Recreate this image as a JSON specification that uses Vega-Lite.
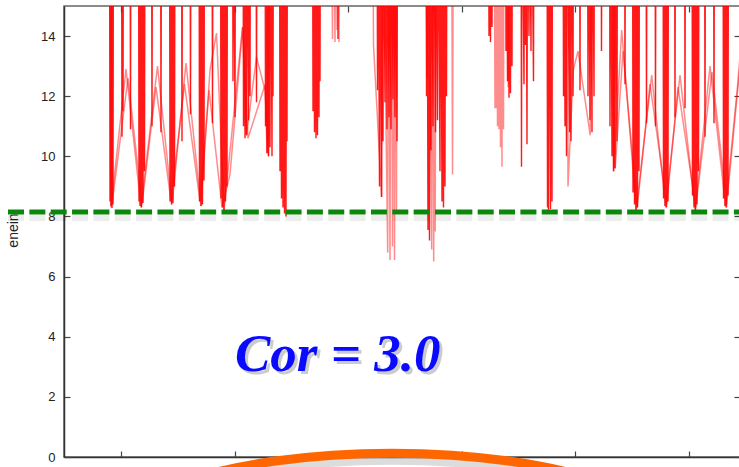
{
  "$schema": "https://vega.github.io/schema/vega-lite/v6.json",
  "width": 676,
  "height": 451,
  "autosize": {"type": "none"},
  "padding": {"left": 64, "top": 6, "right": 0, "bottom": 10},
  "background": "white",
  "config": {"view": {"stroke": "#666", "strokeWidth": 1.5}, "axis": {"grid": false}},
  "datasets": {
    "energy": [
      {"s":"d","x":45.5,"y":20},{"s":"d","x":46,"y":8.5},{"s":"d","x":46.5,"y":20},{"s":"d","x":47,"y":8.35},{"s":"d","x":47.5,"y":20},{"s":"d","x":48,"y":8.28},{"s":"d","x":48.5,"y":20},{"s":"d","x":49,"y":8.4},{"s":"d","x":49.5,"y":20},
      {"s":"d","x":58,"y":10.65},{"s":"d","x":58.5,"y":20},{"s":"d","x":59,"y":11.5},{"s":"d","x":59.5,"y":20},
      {"s":"d","x":66.5,"y":10.9},{"s":"d","x":67,"y":20},
      {"s":"d","x":75,"y":8.5},{"s":"d","x":75.5,"y":20},{"s":"d","x":76,"y":8.35},{"s":"d","x":76.5,"y":20},{"s":"d","x":77.5,"y":8.3},{"s":"d","x":78,"y":20},{"s":"d","x":79,"y":8.45},{"s":"d","x":79.5,"y":20},{"s":"d","x":80.5,"y":9.5},{"s":"d","x":81,"y":20},
      {"s":"d","x":88,"y":11.0},{"s":"d","x":88.5,"y":20},
      {"s":"d","x":97,"y":10.8},{"s":"d","x":97.5,"y":20},
      {"s":"d","x":106,"y":8.5},{"s":"d","x":106.5,"y":20},{"s":"d","x":107.5,"y":8.4},{"s":"d","x":108,"y":20},{"s":"d","x":109,"y":8.45},{"s":"d","x":109.5,"y":20},{"s":"d","x":110.5,"y":9.0},{"s":"d","x":111,"y":20},
      {"s":"d","x":118,"y":10.5},{"s":"d","x":118.5,"y":20},
      {"s":"d","x":126.5,"y":11.4},{"s":"d","x":127,"y":20},
      {"s":"d","x":135.5,"y":8.5},{"s":"d","x":136,"y":20},{"s":"d","x":137,"y":8.35},{"s":"d","x":137.5,"y":20},{"s":"d","x":138.5,"y":8.4},{"s":"d","x":139,"y":20},{"s":"d","x":140,"y":9.2},{"s":"d","x":140.5,"y":20},
      {"s":"d","x":148.5,"y":11.1},{"s":"d","x":149,"y":20},
      {"s":"d","x":157,"y":8.6},{"s":"d","x":157.5,"y":20},{"s":"d","x":158.5,"y":8.3},{"s":"d","x":159,"y":20},{"s":"d","x":160,"y":8.2},{"s":"d","x":160.5,"y":20},{"s":"d","x":161.5,"y":8.5},{"s":"d","x":162,"y":20},{"s":"d","x":163,"y":9.0},{"s":"d","x":163.5,"y":20},
      {"s":"d","x":169,"y":12.5},{"s":"d","x":169.5,"y":20},{"s":"d","x":171,"y":11.3},{"s":"d","x":171.5,"y":20},
      {"s":"d","x":179.5,"y":11.0},{"s":"d","x":180,"y":20},{"s":"d","x":181,"y":10.6},{"s":"d","x":181.5,"y":20},{"s":"d","x":182.5,"y":10.7},{"s":"d","x":183,"y":20},{"s":"d","x":184.5,"y":11.2},{"s":"d","x":185,"y":20},{"s":"d","x":186,"y":12.0},{"s":"d","x":186.5,"y":20},
      {"s":"d","x":192.5,"y":11.8},{"s":"d","x":193,"y":20},
      {"s":"d","x":201.5,"y":11.0},{"s":"d","x":202,"y":20},{"s":"d","x":203,"y":10.1},{"s":"d","x":203.5,"y":20},{"s":"d","x":204.5,"y":10.0},{"s":"d","x":205,"y":20},{"s":"d","x":206,"y":10.3},{"s":"d","x":206.5,"y":20},{"s":"d","x":208,"y":10.0},{"s":"d","x":208.5,"y":20},{"s":"d","x":209,"y":12.0},{"s":"d","x":209.5,"y":20},
      {"s":"d","x":216,"y":9.5},{"s":"d","x":216.5,"y":20},{"s":"d","x":217.5,"y":8.6},{"s":"d","x":218,"y":20},{"s":"d","x":219,"y":8.3},{"s":"d","x":219.5,"y":20},{"s":"d","x":220.5,"y":8.1},{"s":"d","x":221,"y":20},{"s":"d","x":222,"y":8.0},{"s":"d","x":222.5,"y":20},{"s":"d","x":223,"y":10.5},{"s":"d","x":223.5,"y":20},
      {"s":"d","x":249,"y":11.5},{"s":"d","x":249.5,"y":20},{"s":"d","x":250.5,"y":10.8},{"s":"d","x":251,"y":20},{"s":"d","x":252,"y":10.6},{"s":"d","x":252.5,"y":20},{"s":"d","x":253.5,"y":10.7},{"s":"d","x":254,"y":20},{"s":"d","x":255,"y":11.3},{"s":"d","x":255.5,"y":20},{"s":"d","x":256,"y":12.5},{"s":"d","x":256.5,"y":20},
      {"s":"d","x":274,"y":13.9},{"s":"d","x":274.5,"y":20},
      {"s":"d","x":313.5,"y":12.2},{"s":"d","x":314,"y":20},{"s":"d","x":315.5,"y":9.0},{"s":"d","x":316,"y":20},{"s":"d","x":317.5,"y":8.65},{"s":"d","x":318,"y":20},{"s":"d","x":319,"y":10.5},{"s":"d","x":319.5,"y":20},{"s":"d","x":321,"y":11.8},{"s":"d","x":321.5,"y":20},{"s":"d","x":323,"y":10.9},{"s":"d","x":323.5,"y":20},{"s":"d","x":325,"y":11.3},{"s":"d","x":325.5,"y":20},{"s":"d","x":327,"y":10.9},{"s":"d","x":327.5,"y":20},{"s":"d","x":329,"y":11.9},{"s":"d","x":329.5,"y":20},{"s":"d","x":331,"y":11.3},{"s":"d","x":331.5,"y":20},{"s":"d","x":333,"y":10.5},{"s":"d","x":333.5,"y":20},
      {"s":"d","x":362.5,"y":12.0},{"s":"d","x":363,"y":20},{"s":"d","x":364,"y":7.55},{"s":"d","x":364.5,"y":20},{"s":"d","x":365.5,"y":7.2},{"s":"d","x":366,"y":20},{"s":"d","x":367,"y":10.2},{"s":"d","x":367.5,"y":20},{"s":"d","x":369,"y":11.0},{"s":"d","x":369.5,"y":20},{"s":"d","x":371.5,"y":10.8},{"s":"d","x":372,"y":20},{"s":"d","x":373.5,"y":11.2},{"s":"d","x":374,"y":20},{"s":"d","x":376,"y":9.5},{"s":"d","x":376.5,"y":20},{"s":"d","x":378,"y":8.5},{"s":"d","x":378.5,"y":20},{"s":"d","x":379.5,"y":8.3},{"s":"d","x":380,"y":20},{"s":"d","x":381,"y":9.0},{"s":"d","x":381.5,"y":20},{"s":"d","x":382.5,"y":12.0},{"s":"d","x":383,"y":20},
      {"s":"d","x":425,"y":14.0},{"s":"d","x":425.5,"y":20},{"s":"d","x":426.5,"y":13.8},{"s":"d","x":427,"y":20},{"s":"d","x":428,"y":14.3},{"s":"d","x":428.5,"y":20},
      {"s":"d","x":442,"y":13.5},{"s":"d","x":442.5,"y":20},{"s":"d","x":443.5,"y":12.5},{"s":"d","x":444,"y":20},{"s":"d","x":445,"y":11.95},{"s":"d","x":445.5,"y":20},{"s":"d","x":446.5,"y":12.1},{"s":"d","x":447,"y":20},{"s":"d","x":448,"y":13.0},{"s":"d","x":448.5,"y":20},
      {"s":"d","x":457.5,"y":9.65},{"s":"d","x":458,"y":20},{"s":"d","x":460,"y":12.4},{"s":"d","x":460.5,"y":20},{"s":"d","x":461.5,"y":13.7},{"s":"d","x":462,"y":20},{"s":"d","x":463,"y":10.4},{"s":"d","x":463.5,"y":20},{"s":"d","x":465,"y":14.0},{"s":"d","x":465.5,"y":20},{"s":"d","x":467,"y":13.5},{"s":"d","x":467.5,"y":20},{"s":"d","x":469.5,"y":12.5},{"s":"d","x":470,"y":20},
      {"s":"d","x":483.5,"y":8.3},{"s":"d","x":484,"y":20},{"s":"d","x":484.5,"y":8.2},{"s":"d","x":485,"y":20},{"s":"d","x":486.5,"y":8.25},{"s":"d","x":487,"y":20},{"s":"d","x":488,"y":8.5},{"s":"d","x":488.5,"y":20},
      {"s":"d","x":499.5,"y":12.0},{"s":"d","x":500,"y":20},{"s":"d","x":501,"y":11.0},{"s":"d","x":501.5,"y":20},{"s":"d","x":502.5,"y":10.0},{"s":"d","x":503,"y":20},{"s":"d","x":505.5,"y":10.8},{"s":"d","x":506,"y":20},{"s":"d","x":507,"y":10.5},{"s":"d","x":507.5,"y":20},{"s":"d","x":509,"y":12.0},{"s":"d","x":509.5,"y":20},
      {"s":"d","x":516,"y":12.2},{"s":"d","x":516.5,"y":20},
      {"s":"d","x":524,"y":12.0},{"s":"d","x":524.5,"y":20},{"s":"d","x":526,"y":11.2},{"s":"d","x":526.5,"y":20},{"s":"d","x":528,"y":10.8},{"s":"d","x":528.5,"y":20},{"s":"d","x":530,"y":12.0},{"s":"d","x":530.5,"y":20},
      {"s":"d","x":537.5,"y":13.5},{"s":"d","x":538,"y":20},
      {"s":"d","x":546,"y":11.0},{"s":"d","x":546.5,"y":20},{"s":"d","x":548,"y":10.0},{"s":"d","x":548.5,"y":20},{"s":"d","x":549.5,"y":9.5},{"s":"d","x":550,"y":20},{"s":"d","x":551,"y":9.6},{"s":"d","x":551.5,"y":20},{"s":"d","x":553,"y":10.5},{"s":"d","x":553.5,"y":20},
      {"s":"d","x":561,"y":12.4},{"s":"d","x":561.5,"y":20},
      {"s":"d","x":569,"y":8.8},{"s":"d","x":569.5,"y":20},{"s":"d","x":570.5,"y":8.4},{"s":"d","x":571,"y":20},{"s":"d","x":572,"y":8.2},{"s":"d","x":572.5,"y":20},{"s":"d","x":573.5,"y":8.3},{"s":"d","x":574,"y":20},{"s":"d","x":575,"y":9.5},{"s":"d","x":575.5,"y":20},
      {"s":"d","x":582.5,"y":11.1},{"s":"d","x":583,"y":20},
      {"s":"d","x":591.5,"y":11.0},{"s":"d","x":592,"y":20},
      {"s":"d","x":599.5,"y":8.6},{"s":"d","x":600,"y":20},{"s":"d","x":601,"y":8.35},{"s":"d","x":601.5,"y":20},{"s":"d","x":602.5,"y":8.3},{"s":"d","x":603,"y":20},{"s":"d","x":604,"y":8.5},{"s":"d","x":604.5,"y":20},
      {"s":"d","x":611,"y":11.3},{"s":"d","x":611.5,"y":20},
      {"s":"d","x":621,"y":11.6},{"s":"d","x":621.5,"y":20},
      {"s":"d","x":628.5,"y":8.7},{"s":"d","x":629,"y":20},{"s":"d","x":630,"y":8.3},{"s":"d","x":630.5,"y":20},{"s":"d","x":631.5,"y":8.2},{"s":"d","x":632,"y":20},{"s":"d","x":633,"y":8.4},{"s":"d","x":633.5,"y":20},{"s":"d","x":634.5,"y":9.5},{"s":"d","x":635,"y":20},
      {"s":"d","x":641,"y":10.65},{"s":"d","x":641.5,"y":20},
      {"s":"d","x":650,"y":11.1},{"s":"d","x":650.5,"y":20},
      {"s":"d","x":659.5,"y":8.6},{"s":"d","x":660,"y":20},{"s":"d","x":661,"y":8.35},{"s":"d","x":661.5,"y":20},{"s":"d","x":662.5,"y":8.3},{"s":"d","x":663,"y":20},{"s":"d","x":664,"y":8.7},{"s":"d","x":664.5,"y":20},
      {"s":"d","x":57.5,"y":20},{"s":"d","x":66,"y":20},{"s":"d","x":74.5,"y":20},{"s":"d","x":87.5,"y":20},{"s":"d","x":96.5,"y":20},{"s":"d","x":105.5,"y":20},{"s":"d","x":117.5,"y":20},{"s":"d","x":126,"y":20},{"s":"d","x":135,"y":20},{"s":"d","x":148,"y":20},{"s":"d","x":156.5,"y":20},{"s":"d","x":168.5,"y":20},{"s":"d","x":179,"y":20},{"s":"d","x":192,"y":20},{"s":"d","x":201,"y":20},{"s":"d","x":215.5,"y":20},{"s":"d","x":248.5,"y":20},{"s":"d","x":273.5,"y":20},{"s":"d","x":313,"y":20},{"s":"d","x":362,"y":20},{"s":"d","x":424.5,"y":20},{"s":"d","x":441.5,"y":20},{"s":"d","x":457,"y":20},{"s":"d","x":483,"y":20},{"s":"d","x":499,"y":20},{"s":"d","x":515.5,"y":20},{"s":"d","x":523.5,"y":20},{"s":"d","x":537,"y":20},{"s":"d","x":545.5,"y":20},{"s":"d","x":560.5,"y":20},{"s":"d","x":568.5,"y":20},{"s":"d","x":582,"y":20},{"s":"d","x":591,"y":20},{"s":"d","x":599,"y":20},{"s":"d","x":610.5,"y":20},{"s":"d","x":620.5,"y":20},{"s":"d","x":628,"y":20},{"s":"d","x":640.5,"y":20},{"s":"d","x":649.5,"y":20},{"s":"d","x":659,"y":20},

      {"s":"l1","x":46.2,"y":20},{"s":"l1","x":47,"y":8.3},{"s":"l1","x":62,"y":12.9},{"s":"l1","x":77,"y":8.3},{"s":"l1","x":93.5,"y":13.0},{"s":"l1","x":108,"y":8.4},{"s":"l1","x":122,"y":13.1},{"s":"l1","x":137,"y":8.35},{"s":"l1","x":146,"y":12.87},{"s":"l1","x":152.5,"y":14.1},{"s":"l1","x":160,"y":8.2},{"s":"l1","x":178.5,"y":14.3},{"s":"l1","x":182.5,"y":10.7},{"s":"l1","x":192.5,"y":13.3},{"s":"l1","x":201,"y":12.2},{"s":"l1","x":204.5,"y":10.0},{"s":"l1","x":205.5,"y":20},

      {"s":"l2","x":47.5,"y":20},{"s":"l2","x":48,"y":8.4},{"s":"l2","x":64,"y":12.6},{"s":"l2","x":78,"y":8.4},{"s":"l2","x":92,"y":12.3},{"s":"l2","x":107,"y":8.5},{"s":"l2","x":120.5,"y":12.4},{"s":"l2","x":136,"y":8.5},{"s":"l2","x":145,"y":12.2},{"s":"l2","x":158,"y":8.3},{"s":"l2","x":166,"y":9.4},{"s":"l2","x":178.7,"y":14.3},{"s":"l2","x":184,"y":10.6},{"s":"l2","x":201.2,"y":12.4},{"s":"l2","x":203,"y":10.1},{"s":"l2","x":204,"y":20},

      {"s":"l3","x":267,"y":20},{"s":"l3","x":268.5,"y":13.9},{"s":"l3","x":269.5,"y":20},{"s":"l3","x":271,"y":13.8},{"s":"l3","x":272,"y":20},{"s":"l3","x":273,"y":14.2},{"s":"l3","x":274.2,"y":20},{"s":"l3","x":275,"y":13.8},{"s":"l3","x":276,"y":20},
      {"s":"l3","x":308.5,"y":20},{"s":"l3","x":309.5,"y":13.7},{"s":"l3","x":317.7,"y":8.65},{"s":"l3","x":318.5,"y":20},{"s":"l3","x":323.7,"y":6.8},{"s":"l3","x":324.5,"y":20},{"s":"l3","x":326,"y":6.55},{"s":"l3","x":327.2,"y":20},{"s":"l3","x":328.5,"y":7.0},{"s":"l3","x":329.7,"y":20},{"s":"l3","x":330.5,"y":6.55},{"s":"l3","x":331.7,"y":20},{"s":"l3","x":332.5,"y":8.2},{"s":"l3","x":333.2,"y":20},
      {"s":"l3","x":361,"y":20},{"s":"l3","x":363.2,"y":12.6},{"s":"l3","x":364.2,"y":20},{"s":"l3","x":367.7,"y":6.9},{"s":"l3","x":368.5,"y":20},{"s":"l3","x":369.7,"y":6.5},{"s":"l3","x":370.5,"y":20},{"s":"l3","x":371.2,"y":7.5},{"s":"l3","x":372.2,"y":20},{"s":"l3","x":387.5,"y":20},{"s":"l3","x":388.5,"y":9.4},{"s":"l3","x":389.5,"y":20},
      {"s":"l3","x":430,"y":20},{"s":"l3","x":431,"y":11.6},{"s":"l3","x":431.5,"y":20},{"s":"l3","x":432,"y":11.6},{"s":"l3","x":432.5,"y":20},{"s":"l3","x":433.5,"y":11.0},{"s":"l3","x":434,"y":20},{"s":"l3","x":435,"y":10.9},{"s":"l3","x":435.5,"y":20},{"s":"l3","x":436.5,"y":10.3},{"s":"l3","x":437,"y":20},{"s":"l3","x":438,"y":9.65},{"s":"l3","x":438.5,"y":20},{"s":"l3","x":439.5,"y":10.9},{"s":"l3","x":440,"y":20},{"s":"l3","x":443.7,"y":20},{"s":"l3","x":444.2,"y":12.3},{"s":"l3","x":445.2,"y":20},

      {"s":"l4","x":503.2,"y":20},{"s":"l4","x":504,"y":9.0},{"s":"l4","x":509.3,"y":12.87},{"s":"l4","x":514,"y":13.5},{"s":"l4","x":526.2,"y":10.7},{"s":"l4","x":528.2,"y":20},{"s":"l4","x":548.2,"y":20},{"s":"l4","x":549.7,"y":9.5},{"s":"l4","x":557.7,"y":14.2},{"s":"l4","x":572.2,"y":8.2},{"s":"l4","x":587.7,"y":12.7},{"s":"l4","x":601.7,"y":8.3},{"s":"l4","x":616,"y":12.7},{"s":"l4","x":631.2,"y":8.2},{"s":"l4","x":646,"y":13.0},{"s":"l4","x":661.7,"y":8.3},{"s":"l4","x":674,"y":12.5},{"s":"l4","x":681,"y":15.5},

      {"s":"l5","x":550.2,"y":20},{"s":"l5","x":551.2,"y":9.6},{"s":"l5","x":559,"y":13.5},{"s":"l5","x":573.2,"y":8.3},{"s":"l5","x":586,"y":12.4},{"s":"l5","x":602.7,"y":8.4},{"s":"l5","x":614,"y":12.3},{"s":"l5","x":631.7,"y":8.3},{"s":"l5","x":648,"y":12.8},{"s":"l5","x":662.7,"y":8.4},{"s":"l5","x":676,"y":13}
    ],
    "ref": [{"x": -56, "x2": 680, "y": 8.15}],
    "arc": [{"x": 328, "y": -3.2}],
    "label": [{"x": 171, "y": 2.86, "t": "Cor = 3.0"}]
  },
  "resolve": {"axis": {"x": "independent", "y": "independent"}},
  "layer": [
    {
      "data": {"name": "energy"},
      "transform": [{"filter": "datum.s == 'd'"}],
      "mark": {"type": "line", "clip": true, "color": "#ff0000", "strokeWidth": 1.4, "opacity": 0.9},
      "encoding": {
        "x": {"field": "x", "type": "quantitative", "scale": {"domain": [0, 676], "nice": false, "zero": false},
          "axis": {"orient": "bottom", "labels": false, "title": null, "values": [57, 170.5, 284, 397.5, 511, 624.5], "tickSize": -6, "tickColor": "#444", "tickWidth": 1.2, "domainColor": "#333", "domainWidth": 1.5}},
        "y": {"field": "y", "type": "quantitative", "scale": {"domain": [0, 15], "nice": false, "zero": false},
          "axis": {"orient": "left", "values": [0, 2, 4, 6, 8, 10, 12, 14], "tickSize": -6, "tickColor": "#444", "tickWidth": 1.2, "labelPadding": 15, "labelFont": "Liberation Sans", "labelFontSize": 13, "labelColor": "#222", "domainColor": "#333", "domainWidth": 1.5,
            "title": "enein", "titleX": -47, "titleY": 224, "titleAngle": 270, "titleAlign": "center", "titleBaseline": "alphabetic", "titleFont": "Liberation Sans", "titleFontSize": 14, "titleFontWeight": "normal", "titleColor": "#222"}}
      }
    },
    {
      "data": {"name": "energy"},
      "transform": [{"filter": "datum.s != 'd'"}],
      "mark": {"type": "line", "clip": true, "color": "#ff0000", "strokeWidth": 1.5, "opacity": 0.45},
      "encoding": {
        "x": {"field": "x", "type": "quantitative", "scale": {"domain": [0, 676], "nice": false, "zero": false}, "axis": null},
        "y": {"field": "y", "type": "quantitative", "scale": {"domain": [0, 15], "nice": false, "zero": false}, "axis": null},
        "detail": {"field": "s"}
      }
    },
    {
      "data": {"name": "ref"},
      "mark": {"type": "rule", "color": "#000000", "opacity": 0.07, "strokeWidth": 6, "strokeDash": [16, 5.35], "yOffset": 6},
      "encoding": {
        "x": {"field": "x", "type": "quantitative", "scale": {"domain": [0, 676], "nice": false, "zero": false}, "axis": null},
        "x2": {"field": "x2"},
        "y": {"field": "y", "type": "quantitative", "scale": {"domain": [0, 15], "nice": false, "zero": false}, "axis": null}
      }
    },
    {
      "data": {"name": "ref"},
      "mark": {"type": "rule", "color": "#0b870b", "strokeWidth": 5, "strokeDash": [16, 5.35], "strokeCap": "butt"},
      "encoding": {
        "x": {"field": "x", "type": "quantitative", "scale": {"domain": [0, 676], "nice": false, "zero": false}, "axis": null},
        "x2": {"field": "x2"},
        "y": {"field": "y", "type": "quantitative", "scale": {"domain": [0, 15], "nice": false, "zero": false}, "axis": null}
      }
    },
    {
      "data": {"name": "label"},
      "mark": {"type": "text", "font": "Liberation Serif", "fontWeight": "bold", "fontStyle": "italic", "fontSize": 53, "color": "#000000", "opacity": 0.2, "align": "left", "baseline": "alphabetic", "dx": 3, "dy": 3},
      "encoding": {
        "x": {"field": "x", "type": "quantitative", "scale": {"domain": [0, 676], "nice": false, "zero": false},
          "axis": {"orient": "top", "labels": false, "title": null, "domain": false, "values": [57, 170.5, 284, 397.5, 511, 624.5], "tickSize": -6, "tickColor": "#444", "tickWidth": 1.2}},
        "y": {"field": "y", "type": "quantitative", "scale": {"domain": [0, 15], "nice": false, "zero": false},
          "axis": {"orient": "right", "labels": false, "title": null, "domain": false, "values": [0, 2, 4, 6, 8, 10, 12, 14], "tickSize": -6, "tickColor": "#444", "tickWidth": 1.2}},
        "text": {"field": "t"}
      }
    },
    {
      "data": {"name": "label"},
      "mark": {"type": "text", "font": "Liberation Serif", "fontWeight": "bold", "fontStyle": "italic", "fontSize": 53, "color": "#0a0aff", "align": "left", "baseline": "alphabetic"},
      "encoding": {
        "x": {"field": "x", "type": "quantitative", "scale": {"domain": [0, 676], "nice": false, "zero": false}, "axis": null},
        "y": {"field": "y", "type": "quantitative", "scale": {"domain": [0, 15], "nice": false, "zero": false}, "axis": null},
        "text": {"field": "t"}
      }
    },
    {
      "data": {"name": "arc"},
      "mark": {"type": "point", "shape": "M-1,0C-1,-0.1841 -0.5523,-0.3333 0,-0.3333C0.5523,-0.3333 1,-0.1841 1,0", "size": 360000, "filled": false, "color": "#777777", "opacity": 0.25, "strokeWidth": 9, "yOffset": 7},
      "encoding": {
        "x": {"field": "x", "type": "quantitative", "scale": {"domain": [0, 676], "nice": false, "zero": false}, "axis": null},
        "y": {"field": "y", "type": "quantitative", "scale": {"domain": [0, 15], "nice": false, "zero": false}, "axis": null}
      }
    },
    {
      "data": {"name": "arc"},
      "mark": {"type": "point", "shape": "M-1,0C-1,-0.1841 -0.5523,-0.3333 0,-0.3333C0.5523,-0.3333 1,-0.1841 1,0", "size": 360000, "filled": false, "color": "#ff6600", "opacity": 1, "strokeWidth": 9},
      "encoding": {
        "x": {"field": "x", "type": "quantitative", "scale": {"domain": [0, 676], "nice": false, "zero": false}, "axis": null},
        "y": {"field": "y", "type": "quantitative", "scale": {"domain": [0, 15], "nice": false, "zero": false}, "axis": null}
      }
    }
  ]
}
